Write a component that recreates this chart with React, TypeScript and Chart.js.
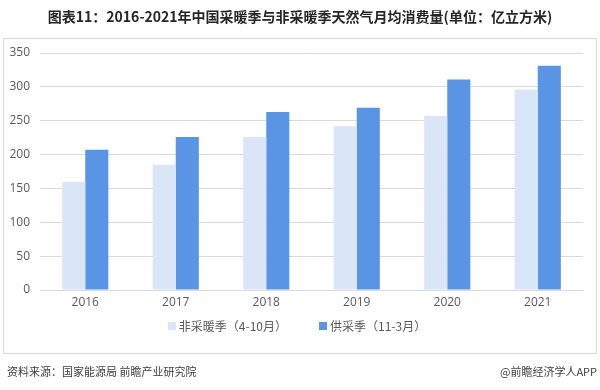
import React, { useEffect, useRef } from "react";
import { Chart, registerables } from "chart.js";

Chart.register(...registerables);

const TITLE = "图表11：2016-2021年中国采暖季与非采暖季天然气月均消费量(单位：亿立方米)";
const SOURCE = "资料来源：国家能源局 前瞻产业研究院";
const BRAND = "@前瞻经济学人APP";

const years = ["2016", "2017", "2018", "2019", "2020", "2021"];
const nonHeating = [160, 185, 226, 242, 257, 296];
const heating = [207, 226, 263, 269, 311, 331];
const seriesNames = ["非采暖季（4-10月）", "供采季（11-3月）"];
const seriesColors = ["#dae6f7", "#5a95e5"];

const CJK = "'Noto Sans CJK SC', 'Noto Sans', sans-serif";

const decorPlugin = {
  id: "decor",
  beforeDraw(chart: any) {
    const ctx = chart.ctx;
    ctx.save();
    ctx.fillStyle = "#ffffff";
    ctx.fillRect(0, 0, chart.width, chart.height);
    ctx.strokeStyle = "#d9d9d9";
    ctx.lineWidth = 1;
    ctx.strokeRect(3.5, 38.5, 593, 315);
    ctx.restore();
  },
  afterDraw(chart: any) {
    const ctx = chart.ctx;
    ctx.save();
    // title
    ctx.fillStyle = "#262626";
    ctx.font = `bold 14px ${CJK}`;
    ctx.textAlign = "center";
    ctx.textBaseline = "middle";
    ctx.fillText(TITLE, 300, 17);
    // legend
    ctx.font = `12px ${CJK}`;
    const items = chart.data.datasets.map((d: any) => ({
      label: d.label,
      color: d.backgroundColor,
      w: ctx.measureText(d.label).width,
    }));
    const box = 8;
    const gap = 3;
    const spacing = 32;
    let total = 0;
    items.forEach((it: any, i: number) => {
      total += box + gap + it.w + (i > 0 ? spacing : 0);
    });
    let x = 297 - total / 2;
    const y = 326;
    ctx.textAlign = "left";
    items.forEach((it: any) => {
      ctx.fillStyle = it.color;
      ctx.fillRect(x, y - box / 2, box, box);
      ctx.fillStyle = "#595959";
      ctx.fillText(it.label, x + box + gap, y);
      x += box + gap + it.w + spacing;
    });
    // source
    ctx.font = `11px ${CJK}`;
    ctx.fillStyle = "#404040";
    ctx.textAlign = "left";
    ctx.fillText(SOURCE, 7, 372);
    ctx.textAlign = "right";
    ctx.fillText(BRAND, 597, 372);
    ctx.restore();
  },
};

export default function App() {
  const ref = useRef<HTMLCanvasElement>(null);
  useEffect(() => {
    if (!ref.current) return;
    const chart = new Chart(ref.current, {
      type: "bar",
      data: {
        labels: years,
        datasets: [
          {
            label: seriesNames[0],
            data: nonHeating,
            backgroundColor: seriesColors[0],
            categoryPercentage: 0.51,
            barPercentage: 1,
          },
          {
            label: seriesNames[1],
            data: heating,
            backgroundColor: seriesColors[1],
            categoryPercentage: 0.51,
            barPercentage: 1,
          },
        ],
      },
      options: {
        animation: false,
        responsive: false,
        devicePixelRatio: 1,
        layout: { padding: { left: 4, right: 17, top: 53, bottom: 80 } },
        plugins: {
          legend: { display: false },
          title: { display: false },
          tooltip: { enabled: false },
        },
        scales: {
          x: {
            grid: { display: false, drawTicks: false },
            border: { display: true, color: "#d9d9d9" },
            ticks: {
              color: "#595959",
              font: { size: 12, family: "'Open Sans', 'Noto Sans', sans-serif" },
              padding: 5,
            },
            afterFit(scale: any) {
              scale.height = 20;
            },
          },
          y: {
            min: 0,
            max: 350,
            ticks: {
              stepSize: 50,
              color: "#595959",
              font: { size: 12, family: "'Open Sans', 'Noto Sans', sans-serif" },
              padding: 10,
            },
            grid: { color: "#d9d9d9", drawTicks: false },
            border: { display: false },
            afterFit(scale: any) {
              scale.width = 36;
            },
          },
        },
      },
      plugins: [decorPlugin],
    } as any);
    return () => chart.destroy();
  }, []);
  return (
    <div style={{ position: "fixed", left: 0, top: 0, width: 600, height: 390, background: "#fff" }}>
      <canvas ref={ref} width={600} height={390} style={{ width: 600, height: 390, display: "block" }} />
    </div>
  );
}
